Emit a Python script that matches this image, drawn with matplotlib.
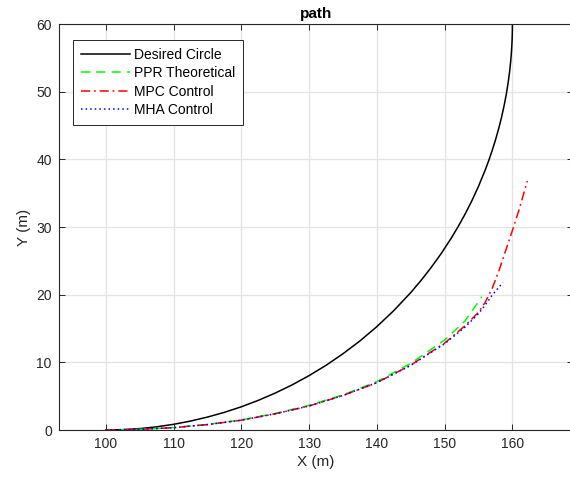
import matplotlib
matplotlib.use("Agg")
import matplotlib.pyplot as plt

plt.rcParams['font.family'] = ['Liberation Sans', 'DejaVu Sans']

# desired circle
circle_x = [100, 102.5, 105, 107.5, 110, 112.5, 115, 117.5, 120, 122.5, 125,
            127.5, 130, 132.5, 135, 137.5, 140, 142.5, 145, 146.5, 148, 149.5,
            151, 152, 153, 154, 155, 156, 156.5, 157, 157.5, 158, 158.4, 158.8,
            159.1, 159.4, 159.6, 159.75, 159.87, 159.95, 159.99, 160]
circle_y = [0, 0.05, 0.21, 0.47, 0.84, 1.32, 1.91, 2.61, 3.43, 4.38, 5.46,
            6.67, 8.04, 9.56, 11.27, 13.16, 15.28, 17.65, 20.31, 22.08, 24.0,
            26.09, 28.39, 30.07, 31.88, 33.85, 36.02, 38.46, 39.81, 41.27,
            42.86, 44.64, 46.24, 48.06, 49.65, 51.54, 53.08, 54.53, 56.05,
            57.55, 58.9, 60]

# PPR theoretical
ppr_x = [100, 105, 110, 115, 120, 125, 130, 135, 140, 145, 150, 153, 155.5]
ppr_y = [0, 0.1, 0.36, 0.82, 1.5, 2.45, 3.65, 5.2, 7.15, 9.85, 13.3, 16.1, 19.7]

# MPC control
mpc_x = [100, 105, 110, 115, 120, 125, 130, 135, 140, 145, 150, 153, 155,
         156, 157, 158, 159, 160, 161, 162.2]
mpc_y = [0, 0.1, 0.35, 0.8, 1.45, 2.4, 3.55, 5.1, 7.0, 9.6, 12.85, 15.4, 17.4,
         18.9, 20.9, 23.5, 26.5, 29.5, 32.6, 36.8]

# MHA control
mha_x = [100, 105, 110, 115, 120, 125, 130, 135, 140, 145, 150, 153, 155,
         156, 157, 158, 158.6]
mha_y = [0, 0.1, 0.35, 0.8, 1.45, 2.4, 3.55, 5.1, 7.0, 9.55, 12.75, 15.2, 17.2,
         18.5, 19.9, 21.1, 21.8]

fig = plt.figure(figsize=(5.7, 4.86), dpi=100)
ax = fig.add_axes([0.103, 0.1152, 0.903, 0.8354])

ax.plot(circle_x, circle_y, color='black', lw=1.1, label='Desired Circle')
ax.plot(ppr_x, ppr_y, color='#00ff00', lw=1.1, ls=(0, (6, 4)), label='PPR Theoretical')
ax.plot(mpc_x, mpc_y, color='red', lw=1.1, ls=(0, (6, 2.5, 1.2, 2.5)), label='MPC Control')
ax.plot(mha_x, mha_y, color='blue', lw=1.1, ls=(0, (1, 2)), label='MHA Control')

ax.set_xlim(93.06, 169.0)
ax.set_ylim(0, 60)
ax.set_xticks([100, 110, 120, 130, 140, 150, 160])
ax.set_yticks([0, 10, 20, 30, 40, 50, 60])
ax.grid(True, color='#e3e3e3', lw=0.9)
ax.set_axisbelow(True)
ax.tick_params(direction='in', top=True, right=True, length=4, width=0.7,
               colors='#262626', labelsize=10, pad=5)
for s in ax.spines.values():
    s.set_color('#262626')
    s.set_linewidth(0.8)

ax.set_title('path', fontsize=11, fontweight='bold', pad=4)
ax.set_xlabel('X (m)', fontsize=11, color='#262626', labelpad=3)
ax.set_ylabel('Y (m)', fontsize=11, color='#262626', labelpad=4)

leg = ax.legend(loc='upper left', bbox_to_anchor=(0.0285, 0.9606), borderaxespad=0,
                fontsize=10, handlelength=3.5, handletextpad=0.35, labelspacing=0.32,
                fancybox=False, framealpha=1, edgecolor='#262626', borderpad=0.55)
leg.get_frame().set_linewidth(0.7)

fig.savefig('out.png', dpi=100)
